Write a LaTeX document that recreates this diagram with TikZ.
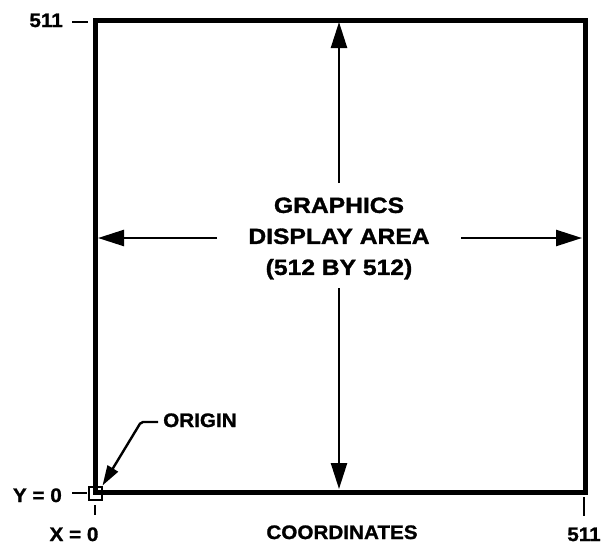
\documentclass[tikz,border=0pt]{standalone}
\usepackage{fontspec}
\newfontfamily\labfont{Liberation Sans}[FakeStretch=1.06,BoldFeatures={FakeBold=1.2}]
\newfontfamily\bigfont{Liberation Sans}[FakeStretch=1.12,BoldFeatures={FakeBold=1.4}]
\usetikzlibrary{arrows.meta}
\begin{document}
\begin{tikzpicture}[x=1pt,y=-1pt,
  lab/.style={inner sep=0pt,anchor=base,font={\labfont\bfseries\fontsize{19.5}{22}\selectfont}},
  tick/.style={line width=2.4pt},
  bigarrow/.style={line width=2.4pt,-{Triangle[length=26pt,width=16pt]}},
  smallarrow/.style={line width=2.4pt,-{Triangle[length=20pt,width=12pt]}}]
\useasboundingbox (0,0) rectangle (604,544);
% display area
\draw[line width=5pt,miter limit=10] (95,20) rectangle (585,492);
% centre label
\node[inner sep=0pt,align=center,font={\bigfont\bfseries\fontsize{22}{31}\selectfont}] (title) at (339,238.5)
  {GRAPHICS\\DISPLAY AREA\\(512 BY 512)};
% arrows
\coordinate (upT) at (339,183);
\coordinate (upH) at (339,22);
\coordinate (dnT) at (339,288);
\coordinate (dnH) at (339,489);
\coordinate (lfT) at (217,238);
\coordinate (lfH) at (98,238);
\coordinate (rtT) at (461,238);
\coordinate (rtH) at (582,238);
\draw[bigarrow] (upT) -- (upH);
\draw[bigarrow] (dnT) -- (dnH);
\draw[bigarrow] (lfT) -- (lfH);
\draw[bigarrow] (rtT) -- (rtH);
% axis labels and ticks
\node[lab,anchor=base east] (y511) at (63,27) {511};
\coordinate (y511a) at (72,22);
\coordinate (y511b) at (88,22);
\draw[tick] (y511a) -- (y511b);
\node[lab,anchor=base east] (y0) at (62,502) {Y = 0};
\coordinate (y0a) at (72,493);
\coordinate (y0b) at (87,493);
\draw[tick] (y0a) -- (y0b);
\node[lab] (x0) at (74,541) {X = 0};
\coordinate (x0a) at (95,505);
\coordinate (x0b) at (95,515);
\draw[tick] (x0a) -- (x0b);
\node[lab] (coord) at (342,539) {COORDINATES};
\node[lab] (x511) at (584,541) {511};
\coordinate (x511a) at (584,497);
\coordinate (x511b) at (584,516);
\draw[tick] (x511a) -- (x511b);
% origin
\node[draw,line width=2pt,minimum size=13pt,inner sep=0pt] (orig) at (95,493) {};
\node[lab,anchor=base west] (origin) at (163,427) {ORIGIN};
\coordinate (ol) at (158,422);
\coordinate (oc) at (141,422);
\draw[smallarrow,rounded corners=2pt] (ol) -- (oc) -- (orig.north east);
\end{tikzpicture}
\end{document}
